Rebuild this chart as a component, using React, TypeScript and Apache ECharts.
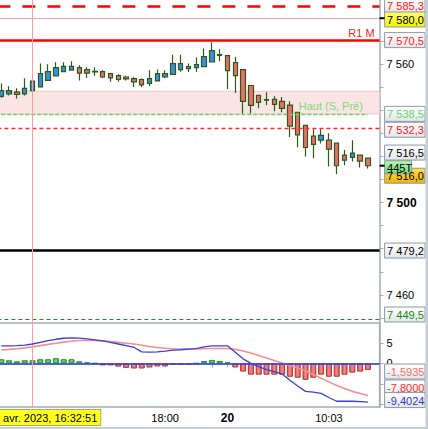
import React, { useEffect, useRef } from "react";
import * as echarts from "echarts";

// ---------- data ----------
const opens = [7546.1, 7547.2, 7547.9, 7547.2, 7548.6, 7550.2, 7553.0, 7555.0, 7556.8, 7557.5, 7558.6, 7557.7, 7556.9, 7556.8, 7556.0, 7555.1, 7554.5, 7553.8, 7553.4, 7551.7, 7552.8, 7554.5, 7555.6, 7557.7, 7559.0, 7558.6, 7559.0, 7561.0, 7564.2, 7563.8, 7560.7, 7557.7, 7550.8, 7546.5, 7544.7, 7544.8, 7543.9, 7542.3, 7539.2, 7533.5, 7528.8, 7527.1, 7527.1, 7525.8, 7520.6, 7519.6, 7520.6, 7519.3];
const closes = [7548.6, 7548.6, 7546.9, 7549.6, 7552.7, 7556.0, 7556.8, 7558.6, 7559.1, 7559.1, 7556.2, 7556.2, 7556.7, 7554.5, 7554.1, 7553.4, 7553.7, 7552.4, 7551.1, 7553.8, 7556.0, 7556.0, 7560.3, 7560.3, 7558.1, 7559.9, 7563.3, 7565.9, 7563.9, 7557.3, 7555.1, 7543.9, 7542.2, 7543.5, 7544.5, 7542.6, 7540.9, 7533.2, 7529.4, 7523.9, 7525.3, 7529.2, 7523.2, 7516.0, 7518.4, 7521.5, 7518.0, 7516.0];
const lows = [7545.5, 7546.5, 7545.2, 7546.5, 7548.3, 7550.0, 7552.8, 7554.9, 7556.6, 7557.4, 7553.0, 7554.1, 7555.0, 7554.1, 7552.4, 7552.4, 7553.0, 7550.2, 7550.2, 7550.6, 7552.7, 7554.1, 7555.5, 7556.8, 7556.7, 7556.7, 7558.9, 7560.8, 7561.3, 7549.3, 7547.6, 7538.7, 7538.7, 7540.9, 7542.2, 7539.6, 7539.2, 7528.5, 7524.0, 7520.0, 7519.2, 7525.6, 7515.7, 7512.4, 7516.3, 7517.8, 7515.2, 7514.8];
const highs = [7551.7, 7550.5, 7549.6, 7554.0, 7553.8, 7560.4, 7560.0, 7560.9, 7560.9, 7561.3, 7559.6, 7558.7, 7558.7, 7557.4, 7556.1, 7555.7, 7555.0, 7554.5, 7553.8, 7557.4, 7557.8, 7557.4, 7564.2, 7564.2, 7560.4, 7562.9, 7566.9, 7569.6, 7566.5, 7563.9, 7563.3, 7557.8, 7551.0, 7546.6, 7547.9, 7546.1, 7545.8, 7544.0, 7539.4, 7533.6, 7531.8, 7531.8, 7530.1, 7525.9, 7522.8, 7527.1, 7520.7, 7519.4];

const macdLine = [4.25, 4.25, 4.3, 4.45, 4.7, 5.1, 5.5, 5.85, 6.1, 6.2, 6.15, 5.95, 5.7, 5.45, 5.1, 4.7, 4.3, 3.9, 2.8, 2.75, 2.8, 2.95, 3.2, 3.3, 3.45, 3.6, 4.0, 4.25, 4.25, 4.25, 2.7, 1.1, 0.0, -0.8, -1.5, -2.0, -2.6, -4.1, -5.5, -6.8, -7.0, -7.3, -8.3, -9.2, -9.2, -9.2, -9.3, -9.4024];
const signalLine = [3.25, 3.4, 3.55, 3.75, 4.0, 4.3, 4.6, 4.9, 5.15, 5.35, 5.55, 5.6, 5.55, 5.45, 5.3, 5.1, 4.9, 4.7, 4.4, 4.1, 3.85, 3.65, 3.55, 3.5, 3.5, 3.5, 3.55, 3.6, 3.6, 3.6, 3.4, 3.0, 2.5, 1.9, 1.3, 0.7, 0.1, -0.5, -1.1, -1.8, -2.7, -3.6, -4.5, -5.4, -6.1, -6.8, -7.3, -7.8];
const histogram = [1.0, 0.75, 0.5, 0.75, 0.75, 1.0, 1.0, 1.25, 1.0, 1.0, 0.5, 0.25, 0, -0.5, -0.5, -0.8, -1.1, -1.25, -1.25, -1.0, -0.75, -0.75, -0.25, -0.25, -0.25, 0, 0.58, 0.83, 0.58, 0.25, -1.0, -2.0, -2.75, -2.75, -2.75, -2.75, -2.75, -3.25, -3.5, -4.0, -3.5, -2.75, -3.25, -3.25, -2.75, -2.25, -2.0, -1.5935];

const xTickIndex = [4, 21, 27, 29, 42];
const xTickText = ["19 avr. 2023, 16:32:51", "18:00", "", "20", "10:03"];
const xTickStyle = ["hl", "n", "n", "b", "n"];

const priceAxisLabels = [7560, 7500, 7460];
const macdAxisLabels = [5, 0, -5];

const levelR1 = 7570.5;
const levelDashTop = 7585.3;
const levelThin = 7580.0;
const levelHaut = 7538.5;
const levelRedDash = 7532.3;
const levelMarker = 7516.5;
const levelBlack = 7479.2;
const levelGreenLow = 7449.5;
const zoneRange = [7538.5, 7548.3];
const crosshairIndex = 4;
const barTicks = "445T";

// ---------- helpers ----------
const FONT = "Liberation Sans";
const fmtNum = (v: number, d: number) => {
  const s = Math.abs(v).toFixed(d);
  const [ip, dp] = s.split(".");
  const g = ip.replace(/\B(?=(\d{3})+(?!\d))/g, " ");
  return (v < 0 ? "-" : "") + g + (dp ? "," + dp : "");
};

const GRID_LEFT = -2.6;
const GRID_W = 382.2;
const AXIS_X = GRID_LEFT + GRID_W;

export default function App() {
  const ref = useRef<HTMLDivElement>(null);

  useEffect(() => {
    if (!ref.current) return;
    const chart = echarts.init(ref.current, null, { renderer: "svg", width: 428, height: 429 });
    const cats = Array.from({ length: opens.length + 1 }, (_, i) => String(i));
    const candleData = opens.map((o, i) => [o, closes[i], lows[i], highs[i]]);
    const n = closes.length;
    const lastClose = closes[n - 1];

    const gray = "#a3adb7";
    const hLine = (v: number, color: string, width: number, type: any) => ({
      yAxis: v,
      lineStyle: { color, width, type },
      label: { show: false },
    });

    const option: any = {
      animation: false,
      backgroundColor: "#ffffff",
      textStyle: { fontFamily: FONT },
      grid: [
        { left: GRID_LEFT, top: 0, width: GRID_W, height: 322, outerBoundsMode: "none", containLabel: false },
        {
          left: GRID_LEFT, top: 323, width: GRID_W, height: 84, outerBoundsMode: "none", containLabel: false,
          show: true, borderColor: gray, borderWidth: 1.5, backgroundColor: "transparent",
        },
      ],
      xAxis: [
        { type: "category", gridIndex: 0, data: cats, boundaryGap: true, show: false },
        {
          type: "category", gridIndex: 1, data: cats, boundaryGap: true,
          axisLine: { show: true, lineStyle: { color: gray, width: 1.5 } },
          axisTick: {
            show: true, alignWithLabel: true, length: 4,
            interval: (i: number) => xTickIndex.includes(i),
            lineStyle: { color: gray, width: 1 },
          },
          axisLabel: {
            show: true, margin: 3, color: "#000", fontSize: 11, fontFamily: FONT,
            interval: (i: number) => xTickIndex.includes(i) && xTickText[xTickIndex.indexOf(i)] !== "",
            formatter: (_v: string, i: number) => {
              const k = xTickIndex.indexOf(i);
              if (k < 0 || !xTickText[k]) return "";
              return `{${xTickStyle[k]}|${xTickText[k]}}`;
            },
            rich: {
              hl: {
                backgroundColor: "#ffff1e", borderColor: "#a8a860", borderWidth: 1,
                padding: [2, 3, 2, 23], color: "#000", fontSize: 11, fontFamily: FONT,
              },
              n: { padding: [2, 0, 2, 0], color: "#000", fontSize: 11, fontFamily: FONT },
              b: { padding: [2, 0, 2, 0], color: "#000", fontSize: 12, fontWeight: "bold", fontFamily: FONT },
            },
          },
          splitLine: { show: false },
        },
      ],
      yAxis: [
        {
          type: "value", gridIndex: 0, position: "right", min: 7448.2, max: 7587.9, splitNumber: 14,
          splitLine: { show: false },
          axisLine: { show: true, lineStyle: { color: gray, width: 1.5 } },
          axisTick: { show: true, length: 4, lineStyle: { color: gray } },
          axisLabel: {
            show: true, margin: 7, color: "#000", fontSize: 11, fontFamily: FONT,
            showMinLabel: false, showMaxLabel: false,
            formatter: (v: number) => {
              const r = Math.round(v);
              if (Math.abs(v - r) > 1e-6 || !priceAxisLabels.includes(r)) return "";
              const s = fmtNum(r, 0);
              return r % 100 === 0 ? `{b|${s}}` : s;
            },
            rich: { b: { fontWeight: "bold", fontSize: 12, color: "#000", fontFamily: FONT } },
          },
        },
        {
          type: "value", gridIndex: 1, position: "right", min: -10.6, max: 9.8, splitNumber: 4,
          splitLine: { show: false },
          axisLine: { show: true, lineStyle: { color: gray, width: 1.5 } },
          axisTick: { show: true, length: 4, lineStyle: { color: gray } },
          axisLabel: {
            show: true, margin: 7, color: "#000", fontSize: 11, fontFamily: FONT,
            showMinLabel: false, showMaxLabel: false,
            formatter: (v: number) => (macdAxisLabels.includes(Math.round(v)) && Math.abs(v - Math.round(v)) < 1e-6 ? fmtNum(v, 0) : ""),
          },
        },
      ],
      series: [
        {
          name: "levels", type: "line", xAxisIndex: 0, yAxisIndex: 0, data: [], z: 1, silent: true,
          markArea: {
            silent: true,
            itemStyle: { color: "#fae4e4", borderColor: "#f0c4c4", borderWidth: 1 },
            data: [[{ yAxis: zoneRange[1] }, { yAxis: zoneRange[0] }]],
          },
          markLine: {
            silent: true, symbol: "none", animation: false,
            emphasis: { disabled: true },
            data: [
              hLine(levelDashTop, "#ff0000", 2.6, [13, 12]),
              hLine(levelThin, "#f4a4a4", 1, "solid"),
              {
                yAxis: levelR1, lineStyle: { color: "#ff0000", width: 2.6, type: "solid" },
                label: {
                  show: true, position: "insideEndTop", formatter: "R1 M", color: "#ff2020",
                  fontSize: 11, fontFamily: FONT, distance: [5, 2],
                },
              },
              [
                {
                  coord: [0, levelHaut], lineStyle: { color: "#62d862", width: 1.3, type: [4, 2] },
                  label: {
                    show: true, position: "insideEndTop", formatter: "Haut (S, Pré)", color: "#7ed87e",
                    fontSize: 11, fontFamily: FONT, distance: [5, 2],
                  },
                },
                { coord: [47, levelHaut] },
              ],
              hLine(levelRedDash, "#ff2a2a", 1.3, [4, 3]),
              hLine(levelBlack, "#000000", 2.5, "solid"),
              hLine(levelGreenLow, "#1e8c1e", 1.2, [4, 3]),
            ],
          },
        },
        {
          name: "price", type: "candlestick", xAxisIndex: 0, yAxisIndex: 0, z: 2,
          data: candleData, barWidth: 5,
          itemStyle: {
            color: "#3a8fe0", color0: "#e8706a",
            borderColor: "#2c5a18", borderColor0: "#2c5a18", borderWidth: 1.2,
          },
        },
        {
          name: "cross0", type: "line", xAxisIndex: 0, yAxisIndex: 0, data: [], z: 4, silent: true,
          markLine: {
            silent: true, symbol: "none", label: { show: false },
            lineStyle: { color: "#ff9c9c", width: 1, type: "solid" },
            data: [{ xAxis: crosshairIndex }],
          },
        },
        {
          name: "hist", type: "bar", xAxisIndex: 1, yAxisIndex: 1, z: 2, barWidth: 6,
          data: histogram.map((v) => ({
            value: v,
            itemStyle: v >= 0
              ? { color: new echarts.graphic.LinearGradient(0, 0, 1, 0, [{ offset: 0, color: "#3fbf3f" }, { offset: 0.5, color: "#6ee06e" }, { offset: 1, color: "#3fbf3f" }]), borderColor: "#2a8a2a", borderWidth: 1 }
              : { color: new echarts.graphic.LinearGradient(0, 0, 1, 0, [{ offset: 0, color: "#dd5a55" }, { offset: 0.5, color: "#f28c86" }, { offset: 1, color: "#dd5a55" }]), borderColor: "#b2322e", borderWidth: 1 },
          })),
        },
        {
          name: "zero", type: "line", xAxisIndex: 1, yAxisIndex: 1, data: [], z: 3, silent: true,
          markLine: {
            silent: true, symbol: "none", label: { show: false },
            data: [
              { yAxis: 0, lineStyle: { color: "#2a40f0", width: 1.5, type: "solid" } },
              { xAxis: crosshairIndex, lineStyle: { color: "#ff9c9c", width: 1, type: "solid" } },
            ],
          },
        },
        {
          name: "signal", type: "line", xAxisIndex: 1, yAxisIndex: 1, z: 4, data: signalLine,
          symbol: "none", lineStyle: { color: "#f29090", width: 1.6 },
        },
        {
          name: "macd", type: "line", xAxisIndex: 1, yAxisIndex: 1, z: 5, data: macdLine,
          symbol: "none", lineStyle: { color: "#3c3ce6", width: 1.3 },
        },
      ],
    };
    chart.setOption(option);

    const py = (v: number, g: number) => chart.convertToPixel({ yAxisIndex: g } as any, v) as unknown as number;
    const boxGrad = () => new echarts.graphic.LinearGradient(0, 0, 0, 1, [{ offset: 0, color: "#ffffff" }, { offset: 1, color: "#e4e6e8" }]);
    const yellowGrad = () => new echarts.graphic.LinearGradient(0, 0, 0, 1, [{ offset: 0, color: "#ffff70" }, { offset: 1, color: "#f2f200" }]);
    const orangeGrad = () => new echarts.graphic.LinearGradient(0, 0, 0, 1, [{ offset: 0, color: "#ffdc50" }, { offset: 1, color: "#f0b400" }]);
    const greenGrad = () => new echarts.graphic.LinearGradient(0, 0, 0, 1, [{ offset: 0, color: "#b4f4b4" }, { offset: 1, color: "#78d878" }]);

    const bx = AXIS_X + 5;
    const els: any[] = [];
    const box = (v: number, g: number, text: string, color: string, dy = 0, fill?: any, w = 40.5, h = 15) => {
      const cy = py(v, g) + dy;
      els.push({
        type: "rect", z: 100, shape: { x: bx, y: cy - h / 2, width: w, height: h },
        style: { fill: fill || boxGrad(), stroke: "#8d99a5", lineWidth: 1 },
      });
      els.push({
        type: "text", z: 101, x: bx + 2.5, y: cy + 0.5,
        style: { text, fill: color, font: `11px "${FONT}"`, verticalAlign: "middle", align: "left" },
      });
    };
    const tick = (v: number, g: number) => {
      const y = py(v, g);
      els.push({ type: "line", z: 102, shape: { x1: AXIS_X, y1: y, x2: AXIS_X + 5, y2: y }, style: { stroke: "#000", lineWidth: 2 } });
    };

    box(levelDashTop, 0, fmtNum(levelDashTop, 1), "#ff1a1a", -0.5);
    box(levelThin, 0, fmtNum(levelThin, 1), "#000", 1.3, yellowGrad());
    tick(levelThin, 0);
    box(levelR1, 0, fmtNum(levelR1, 1), "#ff1a1a");
    box(levelHaut, 0, fmtNum(levelHaut, 1), "#6cd46c");
    box(levelRedDash, 0, fmtNum(levelRedDash, 1), "#ff1a1a", 1.6);
    box(levelMarker, 0, fmtNum(levelMarker, 1), "#000", -12);
    box(lastClose, 0, fmtNum(lastClose, 1), "#000", 10, orangeGrad());
    box(lastClose, 0, barTicks, "#000", 1.5, greenGrad(), 27, 13);
    tick(lastClose, 0);
    box(levelBlack, 0, fmtNum(levelBlack, 1), "#000");
    box(levelGreenLow, 0, fmtNum(levelGreenLow, 1), "#128a12", -4.5);
    box(histogram[n - 1], 1, fmtNum(histogram[n - 1], 4), "#f07070", 1.6);
    box(signalLine[n - 1], 1, fmtNum(signalLine[n - 1], 4), "#ff3030", -8);
    box(macdLine[n - 1], 1, fmtNum(macdLine[n - 1], 4), "#3434d8", -2);

    els.push({ type: "rect", z: 110, shape: { x: 425.5, y: 0, width: 3, height: 429 }, style: { fill: "#c6ced6" } });
    els.push({ type: "rect", z: 110, shape: { x: 0, y: 427, width: 428, height: 2 }, style: { fill: "#c6ced6" } });

    chart.setOption({ graphic: els });

    return () => chart.dispose();
  }, []);

  return (
    <div
      ref={ref}
      style={{ position: "absolute", left: 0, top: 0, width: 428, height: 429 }}
    />
  );
}
